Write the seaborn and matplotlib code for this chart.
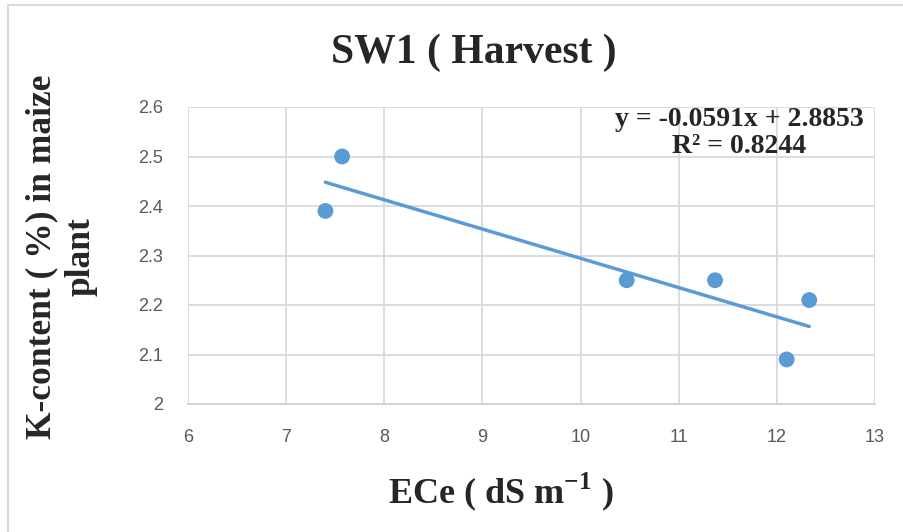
import matplotlib
matplotlib.use("Agg")
import matplotlib.pyplot as plt
import seaborn as sns
import numpy as np
import pandas as pd
from matplotlib.lines import Line2D

# Data
ece = [7.40, 7.57, 10.47, 11.37, 12.10, 12.33]
k_content = [2.39, 2.50, 2.25, 2.25, 2.09, 2.21]
slope = -0.0591
intercept = 2.8853
r2 = 0.8244
x_ticks = [6, 7, 8, 9, 10, 11, 12, 13]
y_ticks = [2.0, 2.1, 2.2, 2.3, 2.4, 2.5, 2.6]
y_tick_labels = ["2", "2.1", "2.2", "2.3", "2.4", "2.5", "2.6"]

sns.set_style("white")
plt.rcParams["font.family"] = ["Liberation Sans", "DejaVu Sans"]
plt.rcParams["mathtext.fontset"] = "custom"
plt.rcParams["mathtext.rm"] = "Liberation Serif:bold"
plt.rcParams["mathtext.bf"] = "Liberation Serif:bold"

df = pd.DataFrame({"ECe": ece, "K": k_content})
trend_x = np.array([min(ece), max(ece)])
trend = pd.DataFrame({"ECe": trend_x, "K": slope * trend_x + intercept})

fig = plt.figure(figsize=(9.04, 5.32), dpi=100)
ax = fig.add_axes([188 / 904, 1 - 404 / 532, (875 - 188) / 904, (404 - 107) / 532])

blue = "#5B9BD5"
sns.lineplot(data=trend, x="ECe", y="K", ax=ax, color=blue, linewidth=2.5, zorder=3)
sns.scatterplot(data=df, x="ECe", y="K", ax=ax, color=blue, s=130, edgecolor="none", zorder=4)

ax.set_xlim(6, 13)
ax.set_ylim(2.0, 2.6)
ax.set_xticks(x_ticks)
ax.set_yticks(y_ticks)
ax.set_yticklabels(y_tick_labels)
ax.grid(True, color="#D9D9D9", linewidth=1.3)
ax.set_axisbelow(True)
for s in ax.spines.values():
    s.set_visible(False)
ax.spines["bottom"].set_visible(True)
ax.spines["bottom"].set_color("#D0D0D0")
ax.spines["bottom"].set_linewidth(1.3)
ax.tick_params(axis="both", length=0, labelsize=13, colors="#595959")
ax.tick_params(axis="x", pad=18)
ax.tick_params(axis="y", pad=18)
ax.set_xlabel("")
ax.set_ylabel("")

serif = ["Liberation Serif", "DejaVu Serif"]
fig.text(474 / 904, 1 - 53 / 532, "SW1 ( Harvest )", ha="center", va="center",
         fontsize=30, fontweight="bold", family=serif)
fig.text(501 / 904, 1 - 492 / 532, r"ECe ( dS m$^{\mathbf{-1}}$ )", ha="center", va="center",
         fontsize=26, fontweight="bold", family=serif)
fig.text(61 / 904, 1 - 257 / 532, "K-content ( %) in maize\nplant", ha="center", va="center",
         rotation=90, fontsize=25.5, fontweight="bold", family=serif, linespacing=1.25,
         multialignment="center")
ax.text(739 / 904, 1 - 133 / 532, f"y = {slope}x + {intercept}\nR² = {r2}",
        transform=fig.transFigure, ha="center", va="center", fontsize=20,
        fontweight="bold", family=serif, linespacing=1.15, multialignment="center")

# chart-area border (top and left visible)
fig.add_artist(Line2D([8 / 904, 8 / 904], [0, 1 - 5 / 532], transform=fig.transFigure,
                      color="#D9D9D9", linewidth=1.5))
fig.add_artist(Line2D([8 / 904, 1], [1 - 5 / 532, 1 - 5 / 532], transform=fig.transFigure,
                      color="#D9D9D9", linewidth=1.5))

fig.savefig("out.png", dpi=100)
